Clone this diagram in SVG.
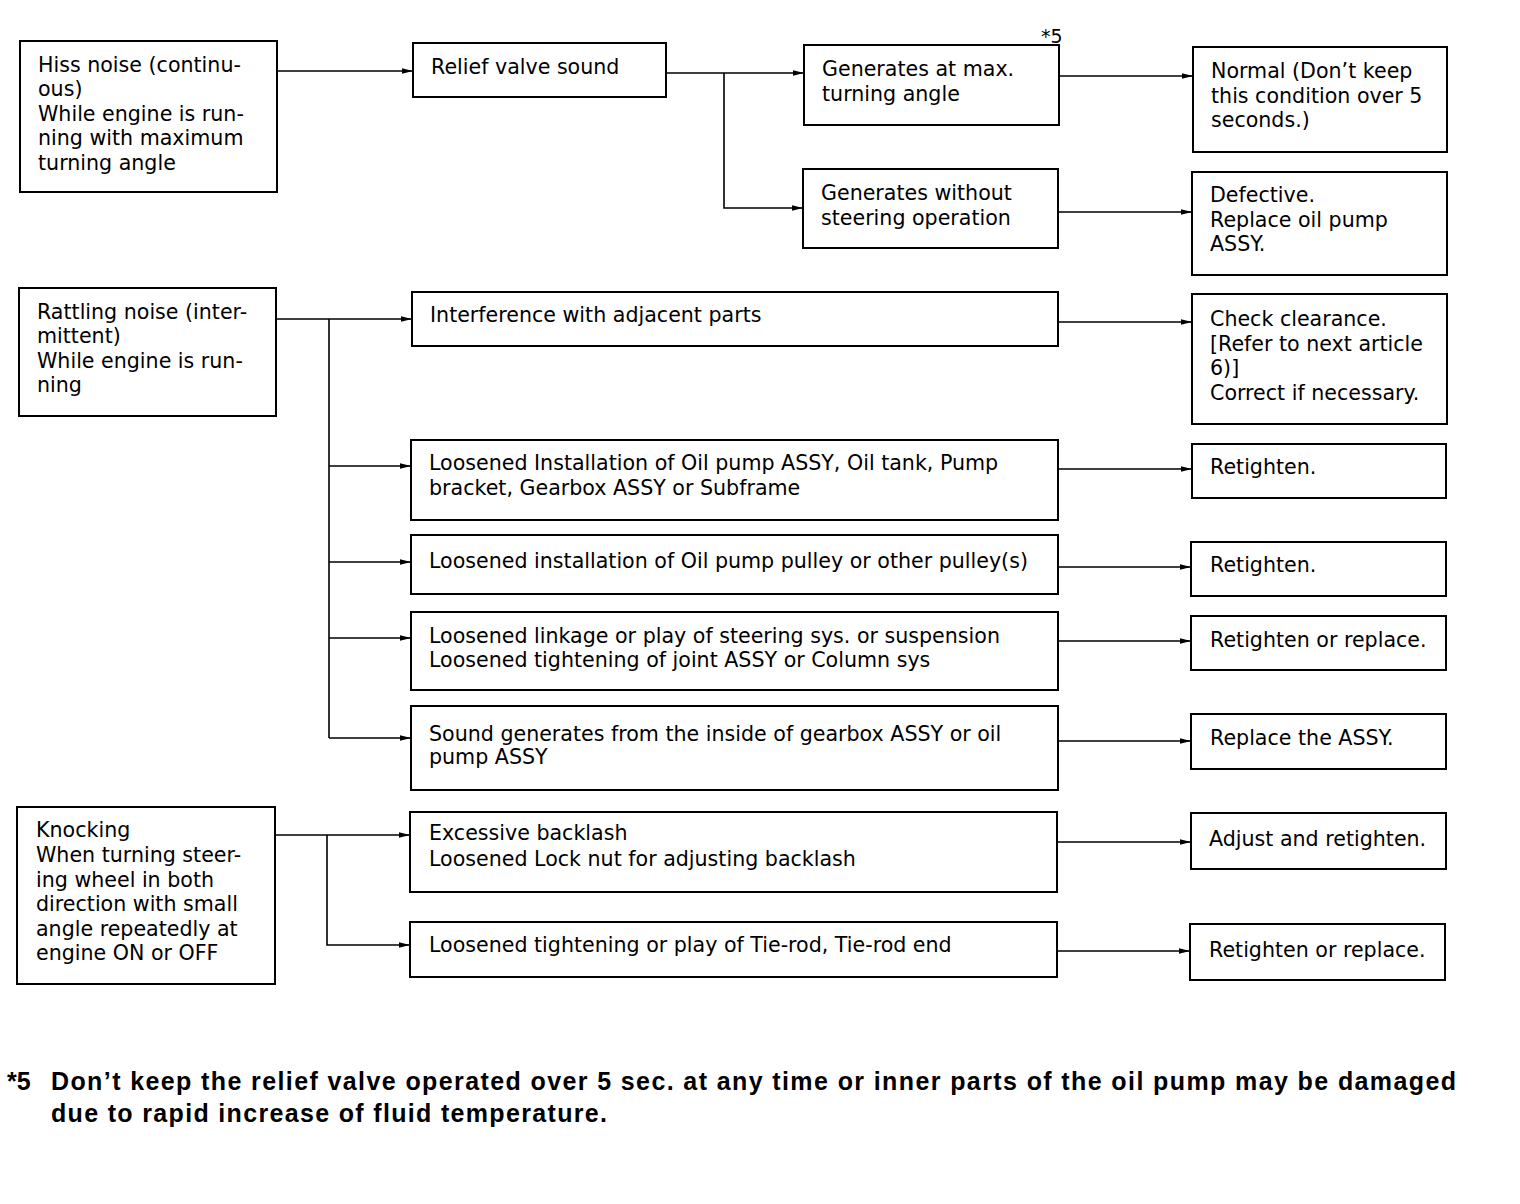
<svg xmlns="http://www.w3.org/2000/svg" width="1520" height="1204" viewBox="0 0 1520 1204">
<defs>
<marker id="arr" markerWidth="11" markerHeight="7" refX="11" refY="3.5" orient="auto" markerUnits="userSpaceOnUse">
<path d="M0,0.8 L11,3.5 L0,6.2 Z" fill="#000"/>
</marker>
<style>
rect.box{fill:#fff;stroke:#000;stroke-width:2}
text{font-family:"DejaVu Sans","Liberation Sans",sans-serif;font-size:20.6px;fill:#000}
text.note{font-size:19px}
.c line,.c polyline{stroke:#000;stroke-width:1.6;fill:none}
.c .a{marker-end:url(#arr)}
.fn{font-family:"Liberation Sans",Arial,sans-serif;font-weight:bold;font-size:25px}
</style>
</defs>
<rect width="1520" height="1204" fill="#fff"/>

<g class="c" id="connectors">
<line class="a" x1="277" y1="71" x2="413" y2="71"/>
<line class="a" x1="666" y1="73" x2="804" y2="73"/>
<polyline class="a" points="724,73 724,208 803,208"/>
<line class="a" x1="1059" y1="76" x2="1193" y2="76"/>
<line class="a" x1="1058" y1="212" x2="1192" y2="212"/>
<line class="a" x1="276" y1="319" x2="412" y2="319"/>
<line x1="329" y1="319" x2="329" y2="738"/>
<line class="a" x1="329" y1="466" x2="411" y2="466"/>
<line class="a" x1="329" y1="562" x2="411" y2="562"/>
<line class="a" x1="329" y1="638" x2="411" y2="638"/>
<line class="a" x1="329" y1="738" x2="411" y2="738"/>
<line class="a" x1="1058" y1="322" x2="1192" y2="322"/>
<line class="a" x1="1058" y1="469" x2="1192" y2="469"/>
<line class="a" x1="1058" y1="567" x2="1191" y2="567"/>
<line class="a" x1="1058" y1="641" x2="1191" y2="641"/>
<line class="a" x1="1058" y1="741" x2="1191" y2="741"/>
<line class="a" x1="275" y1="835" x2="410" y2="835"/>
<polyline class="a" points="327,835 327,945 410,945"/>
<line class="a" x1="1057" y1="842" x2="1191" y2="842"/>
<line class="a" x1="1057" y1="951" x2="1190" y2="951"/>
</g>

<g id="hiss"><rect class="box" x="20" y="41" width="257" height="151"/>
<text x="38" y="72">Hiss noise (continu-</text><text x="38" y="96">ous)</text><text x="38" y="121">While engine is run-</text><text x="38" y="145">ning with maximum</text><text x="38" y="170">turning angle</text></g>

<g id="relief"><rect class="box" x="413" y="43" width="253" height="54"/>
<text x="431" y="74">Relief valve sound</text></g>

<g id="genmax"><rect class="box" x="804" y="45" width="255" height="80"/>
<text x="822" y="76">Generates at max.</text><text x="822" y="101">turning angle</text></g>
<text class="note" x="1041" y="43">*5</text>

<g id="normal"><rect class="box" x="1193" y="47" width="254" height="105"/>
<text x="1211" y="78">Normal (Don’t keep</text><text x="1211" y="103">this condition over 5</text><text x="1211" y="127">seconds.)</text></g>

<g id="genwithout"><rect class="box" x="803" y="169" width="255" height="79"/>
<text x="821" y="200">Generates without</text><text x="821" y="225">steering operation</text></g>

<g id="defective"><rect class="box" x="1192" y="172" width="255" height="103"/>
<text x="1210" y="202">Defective.</text><text x="1210" y="227">Replace oil pump</text><text x="1210" y="251">ASSY.</text></g>

<g id="rattling"><rect class="box" x="19" y="288" width="257" height="128"/>
<text x="37" y="319">Rattling noise (inter-</text><text x="37" y="343">mittent)</text><text x="37" y="368">While engine is run-</text><text x="37" y="392">ning</text></g>

<g id="interference"><rect class="box" x="412" y="292" width="646" height="54"/>
<text x="430" y="322">Interference with adjacent parts</text></g>

<g id="check"><rect class="box" x="1192" y="294" width="255" height="130"/>
<text x="1210" y="326">Check clearance.</text><text x="1210" y="351">[Refer to next article</text><text x="1210" y="375">6)]</text><text x="1210" y="400">Correct if necessary.</text></g>

<g id="loosinst"><rect class="box" x="411" y="440" width="647" height="80"/>
<text x="429" y="470">Loosened Installation of Oil pump ASSY, Oil tank, Pump</text><text x="429" y="495">bracket, Gearbox ASSY or Subframe</text></g>

<g id="ret1"><rect class="box" x="1192" y="444" width="254" height="54"/>
<text x="1210" y="474">Retighten.</text></g>

<g id="pulley"><rect class="box" x="411" y="535" width="647" height="59"/>
<text x="429" y="568">Loosened installation of Oil pump pulley or other pulley(s)</text></g>

<g id="ret2"><rect class="box" x="1191" y="542" width="255" height="54"/>
<text x="1210" y="572">Retighten.</text></g>

<g id="linkage"><rect class="box" x="411" y="612" width="647" height="78"/>
<text x="429" y="643">Loosened linkage or play of steering sys. or suspension</text><text x="429" y="667">Loosened tightening of joint ASSY or Column sys</text></g>

<g id="retrep1"><rect class="box" x="1191" y="616" width="255" height="54"/>
<text x="1210" y="647">Retighten or replace.</text></g>

<g id="sound"><rect class="box" x="411" y="706" width="647" height="84"/>
<text x="429" y="741">Sound generates from the inside of gearbox ASSY or oil</text><text x="429" y="764">pump ASSY</text></g>

<g id="replace"><rect class="box" x="1191" y="714" width="255" height="55"/>
<text x="1210" y="745">Replace the ASSY.</text></g>

<g id="knocking"><rect class="box" x="17" y="807" width="258" height="177"/>
<text x="36" y="837">Knocking</text><text x="36" y="862">When turning steer-</text><text x="36" y="887">ing wheel in both</text><text x="36" y="911">direction with small</text><text x="36" y="936">angle repeatedly at</text><text x="36" y="960">engine ON  or OFF</text></g>

<g id="backlash"><rect class="box" x="410" y="812" width="647" height="80"/>
<text x="429" y="840">Excessive backlash</text><text x="429" y="866">Loosened Lock nut for adjusting backlash</text></g>

<g id="adjust"><rect class="box" x="1191" y="813" width="255" height="56"/>
<text x="1209" y="846">Adjust and retighten.</text></g>

<g id="tierod"><rect class="box" x="410" y="922" width="647" height="55"/>
<text x="429" y="952">Loosened tightening or play of Tie-rod, Tie-rod end</text></g>

<g id="retrep2"><rect class="box" x="1190" y="924" width="255" height="56"/>
<text x="1209" y="957">Retighten or replace.</text></g>

<g id="footnote">
<text class="fn" x="7" y="1090">*5</text>
<text class="fn" x="51" y="1090" textLength="1405" lengthAdjust="spacing">Don’t keep the relief valve operated over 5 sec. at any time or inner parts of the oil pump may be damaged</text>
<text class="fn" x="51" y="1122" textLength="556" lengthAdjust="spacing">due to rapid increase of fluid temperature.</text>
</g>
</svg>
